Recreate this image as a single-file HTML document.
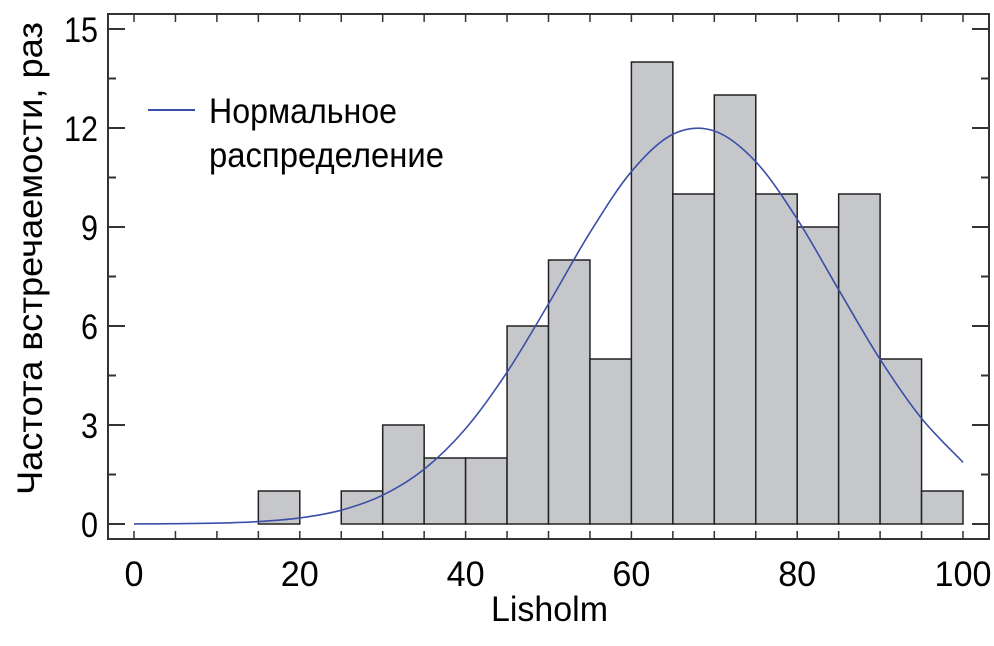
<!DOCTYPE html>
<html><head><meta charset="utf-8"><style>
body{margin:0;background:#fff}
svg text{font-family:"Liberation Sans Narrow","Liberation Sans",sans-serif;fill:#000}
</style></head><body>
<svg id="chart" width="994" height="641" viewBox="0 0 994 641" xmlns="http://www.w3.org/2000/svg">
<g id="bars"></g>
<g id="curve"></g>
<g id="axes"></g>
<g>
<line x1="148" y1="110" x2="195" y2="110" stroke="#3a4fa8" stroke-width="2"/>
<text x="209" y="123" font-size="35" textLength="188" lengthAdjust="spacingAndGlyphs">Нормальное</text>
<text x="209" y="167" font-size="35" textLength="235" lengthAdjust="spacingAndGlyphs">распределение</text>
</g>
<text x="491" y="621" font-size="35" textLength="117" lengthAdjust="spacingAndGlyphs">Lisholm</text>
<text transform="translate(42,495) rotate(-90)" font-size="35" textLength="473" lengthAdjust="spacingAndGlyphs">Частота встречаемости, раз</text>
</svg>
<script>
const binStarts=[15,25,30,35,40,45,50,55,60,65,70,75,80,85,90,95];
const binCounts=[1,1,3,2,2,6,8,5,14,10,13,10,9,10,5,1];
const binWidth=5;
const curveX=[0,5,10,15,20,25,30,35,40,45,50,55,60,65,70,75,80,85,90,95,100];
const curveY=[0.003,0.009,0.027,0.073,0.184,0.419,0.873,1.66,2.89,4.6,6.67,8.83,10.68,11.81,11.91,10.98,9.24,7.1,4.99,3.2,1.87];
const xTicks=[0,20,40,60,80,100];
const yTicks=[0,3,6,9,12,15];
const NS="http://www.w3.org/2000/svg";
const X=v=>134+v*8.29, Y=v=>524-v*33;
function mk(tag,attrs,parent){const e=document.createElementNS(NS,tag);for(const k in attrs)e.setAttribute(k,attrs[k]);parent.appendChild(e);return e;}
const bars=document.getElementById('bars');
binStarts.forEach((s,i)=>{
 const r=mk('rect',{x:X(s),y:Y(binCounts[i]),width:X(s+binWidth)-X(s),height:Y(0)-Y(binCounts[i]),fill:'#c6c7cb',stroke:'#222','stroke-width':1.5},bars);
 
 
});
const pts=curveX.map((x,i)=>[X(x),Y(curveY[i])]);
let d='M'+pts[0][0]+','+pts[0][1];
for(let i=0;i<pts.length-1;i++){
 const p0=pts[Math.max(0,i-1)],p1=pts[i],p2=pts[i+1],p3=pts[Math.min(pts.length-1,i+2)];
 d+=` C${p1[0]+(p2[0]-p0[0])/6},${p1[1]+(p2[1]-p0[1])/6} ${p2[0]-(p3[0]-p1[0])/6},${p2[1]-(p3[1]-p1[1])/6} ${p2[0]},${p2[1]}`;
}
const c=mk('path',{d:d,fill:'none',stroke:'#3a4fa8','stroke-width':1.6},document.getElementById('curve'));


const ax=document.getElementById('axes');
const frame=mk('rect',{x:108,y:14,width:881,height:525,fill:'none',stroke:'#333','stroke-width':2},ax);


for(let v=0;v<=15;v+=1.5){
 const major=Math.abs(v/3-Math.round(v/3))<1e-6, len=major?17:8;
 mk('line',{x1:108,y1:Y(v),x2:108+len,y2:Y(v),stroke:'#333','stroke-width':2},ax);
 mk('line',{x1:989,y1:Y(v),x2:989-len,y2:Y(v),stroke:'#333','stroke-width':2},ax);
}
for(let v=0;v<=100;v+=5){
 mk('line',{x1:X(v),y1:539,x2:X(v),y2:531,stroke:'#333','stroke-width':1.5},ax);
 mk('line',{x1:X(v),y1:14,x2:X(v),y2:22,stroke:'#333','stroke-width':1.5},ax);
}
xTicks.forEach(v=>{
 const s=String(v), w=19*s.length;
 const t=mk('text',{x:X(v)-w/2,y:586,'font-size':35,textLength:w,lengthAdjust:'spacingAndGlyphs'},ax);t.textContent=s;
 
 
});
yTicks.forEach(v=>{
 const s=String(v), w=17*s.length;
 const t=mk('text',{x:98-w,y:Y(v)+13,'font-size':35,textLength:w,lengthAdjust:'spacingAndGlyphs'},ax);t.textContent=s;
 
 
});
</script>
</body></html>
